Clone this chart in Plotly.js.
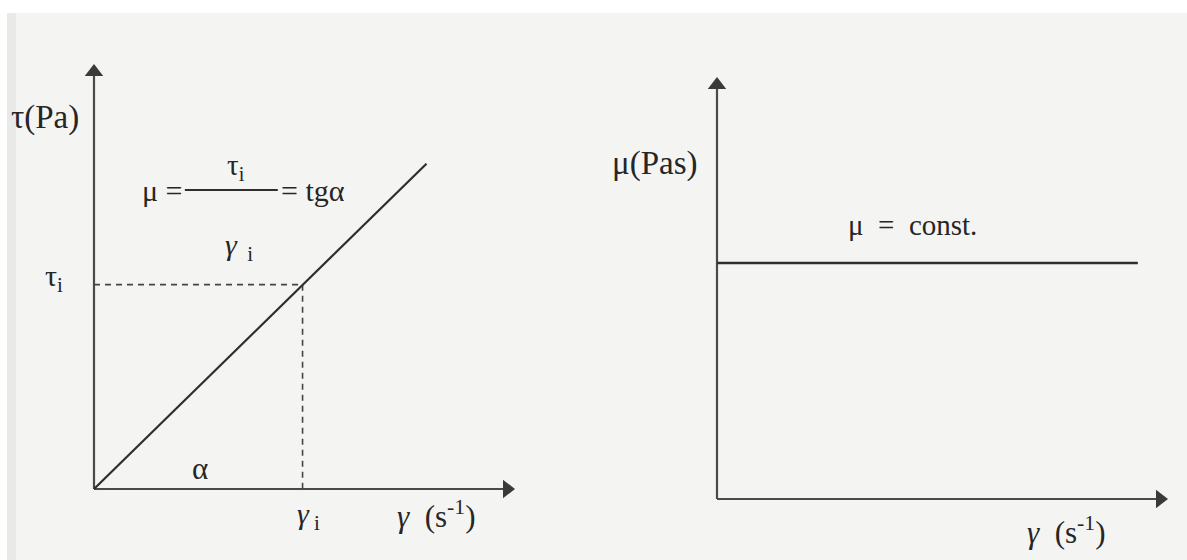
<!DOCTYPE html>
<html>
<head>
<meta charset="utf-8">
<script src="https://cdn.plot.ly/plotly-3.0.1.min.js"></script>
<style>html,body{margin:0;padding:0;background:#fff;}#chart{width:1187px;height:560px;}</style>
</head>
<body>
<div id="chart"></div>
<script>
// Left diagram: shear stress vs shear rate (Newtonian fluid)
const shearRate = [0, 5.05, 8.05];
const shearStress = [0, 4.9, 7.8];
const gammaI = 5.05;
const tauI = 4.9;
// Right diagram: viscosity vs shear rate (constant)
const shearRateR = [0, 9.5];
const viscosity = [5.7, 5.7];
// axis extents (arrow tips)
const axisMax = 10;

const ink = '#2e2e2e';
const axisInk = '#4a4a4a';
const serif = 'Liberation Serif';

const traces = [
  // left axes
  {x: [0, axisMax], y: [0, 0], xaxis: 'x', yaxis: 'y', mode: 'lines', line: {color: axisInk, width: 2.2}, hoverinfo: 'skip'},
  {x: [0, 0], y: [0, axisMax], xaxis: 'x', yaxis: 'y', mode: 'lines', line: {color: axisInk, width: 2.2}, hoverinfo: 'skip'},
  {x: [axisMax], y: [0], xaxis: 'x', yaxis: 'y', mode: 'markers', cliponaxis: false, marker: {symbol: 'triangle-right', size: 16, color: '#3a3a3a'}, hoverinfo: 'skip'},
  {x: [0], y: [axisMax], xaxis: 'x', yaxis: 'y', mode: 'markers', cliponaxis: false, marker: {symbol: 'triangle-up', size: 16, color: '#3a3a3a'}, hoverinfo: 'skip'},
  // dashed guides
  {x: [0, gammaI], y: [tauI, tauI], xaxis: 'x', yaxis: 'y', mode: 'lines', line: {color: '#444', width: 1.6, dash: '6px,5px'}, hoverinfo: 'skip'},
  {x: [gammaI, gammaI], y: [tauI, 0], xaxis: 'x', yaxis: 'y', mode: 'lines', line: {color: '#444', width: 1.6, dash: '6px,5px'}, hoverinfo: 'skip'},
  // flow curve
  {x: shearRate, y: shearStress, xaxis: 'x', yaxis: 'y', mode: 'lines', line: {color: ink, width: 2.2}, hoverinfo: 'skip'},
  // fraction bar
  {x: [2.2, 4.45], y: [7.17, 7.17], xaxis: 'x', yaxis: 'y', mode: 'lines', line: {color: ink, width: 2}, hoverinfo: 'skip'},
  // right axes
  {x: [0, axisMax], y: [0, 0], xaxis: 'x2', yaxis: 'y2', mode: 'lines', line: {color: axisInk, width: 2.2}, hoverinfo: 'skip'},
  {x: [0, 0], y: [0, axisMax], xaxis: 'x2', yaxis: 'y2', mode: 'lines', line: {color: axisInk, width: 2.2}, hoverinfo: 'skip'},
  {x: [axisMax], y: [0], xaxis: 'x2', yaxis: 'y2', mode: 'markers', cliponaxis: false, marker: {symbol: 'triangle-right', size: 16, color: '#3a3a3a'}, hoverinfo: 'skip'},
  {x: [0], y: [axisMax], xaxis: 'x2', yaxis: 'y2', mode: 'markers', cliponaxis: false, marker: {symbol: 'triangle-up', size: 16, color: '#3a3a3a'}, hoverinfo: 'skip'},
  {x: shearRateR, y: viscosity, xaxis: 'x2', yaxis: 'y2', mode: 'lines', line: {color: ink, width: 2.4}, hoverinfo: 'skip'}
];

function txt(text, x, y, ref, size, anchor) {
  return {text: text, x: x, y: y, xref: 'x' + ref, yref: 'y' + ref, showarrow: false,
          xanchor: anchor || 'center', yanchor: 'middle', font: {family: serif, size: size, color: '#262626'}};
}

const annotations = [
  txt('τ(Pa)', -1.19, 8.92, '', 33),
  txt('τ<sub>i</sub>', -0.98, 5.05, '', 30),
  txt('μ =', 2.2, 7.17, '', 30, 'right'),
  txt('τ<sub>i</sub>', 3.45, 7.72, '', 29),
  txt('<i>γ</i><sub>  i</sub>', 3.5, 5.8, '', 30),
  txt('= tgα', 4.47, 7.17, '', 30, 'left'),
  txt('α', 2.57, 0.5, '', 31),
  txt('<i>γ</i><sub> i</sub>', 5.2, -0.65, '', 30),
  txt('<i>γ</i>  (s<sup>-1</sup>)', 8.3, -0.62, '', 31),
  txt('μ(Pas)', -1.4, 8.1, '2', 33),
  txt('μ  =  const.', 4.42, 6.62, '2', 29),
  txt('<i>γ</i>  (s<sup>-1</sup>)', 7.88, -0.75, '2', 31)
];

const W = 1187, H = 560;
const hidden = {visible: false, fixedrange: true};
// left: 1 unit = 41.3 px (x), 41.7 px (y); origin at pixel (94, 489)
// right: 1 unit = 44.3 px (x), 41.4 px (y); origin at pixel (717, 499)
const layout = {
  width: W, height: H,
  margin: {l: 0, r: 0, t: 0, b: 0},
  paper_bgcolor: '#ffffff',
  plot_bgcolor: 'rgba(0,0,0,0)',
  showlegend: false,
  xaxis: Object.assign({domain: [0, 560 / W], range: [-94 / 41.3, (560 - 94) / 41.3]}, hidden),
  yaxis: Object.assign({domain: [0, 1], range: [-(H - 489) / 41.7, 489 / 41.7]}, hidden),
  xaxis2: Object.assign({domain: [580 / W, 1], range: [(580 - 717) / 44.3, (W - 717) / 44.3]}, hidden),
  yaxis2: Object.assign({domain: [0, 1], range: [-(H - 499) / 41.4, 499 / 41.4]}, hidden),
  shapes: [
    {type: 'rect', xref: 'paper', yref: 'paper', x0: 7 / W, x1: 1, y0: 0, y1: (H - 13) / H,
     fillcolor: '#f4f5f3', line: {width: 0}, layer: 'below'},
    {type: 'rect', xref: 'paper', yref: 'paper', x0: 7 / W, x1: 16 / W, y0: 0, y1: (H - 13) / H,
     fillcolor: '#e9eae8', line: {width: 0}, layer: 'below'}
  ],
  annotations: annotations
};

Plotly.newPlot('chart', traces, layout, {staticPlot: true, displayModeBar: false});
</script>
</body>
</html>
